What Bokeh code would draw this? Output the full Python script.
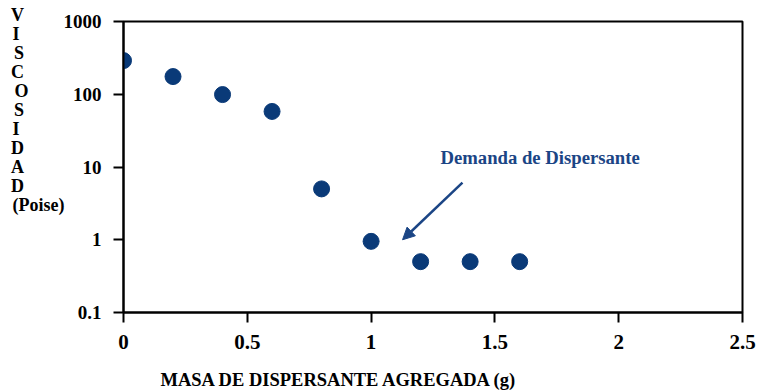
from bokeh.plotting import figure
from bokeh.layouts import column
from bokeh.models import Range1d, FixedTicker, Label, Arrow, NormalHead, ColumnDataSource
from bokeh.embed import file_html
from bokeh.resources import INLINE

# data
masa = [0, 0.2, 0.4, 0.6, 0.8, 1.0, 1.2, 1.4, 1.6]
viscosidad = [290, 175, 99, 58, 5.0, 0.95, 0.5, 0.5, 0.5]
x_ticks = [0, 0.5, 1, 1.5, 2, 2.5]
x_tick_labels = ["0", "0.5", "1", "1.5", "2", "2.5"]
y_ticks = [0.1, 1, 10, 100, 1000]
y_tick_labels = ["0.1", "1", "10", "100", "1000"]
y_title_lines = ["V", "I", "S", "C", "O", "S", "I", "D", "A", "D", "(Poise)"]
x_title = "MASA DE DISPERSANTE AGREGADA (g)"
annot_text = "Demanda de Dispersante"
annot_pos = (1.28, 13.5)
arrow_start = (1.369, 6.1)
arrow_end = (1.127, 1.0)

FONT = "Liberation Serif"
BLUE = "#0a3a78"

W, H = 759, 390
STRIP = 26                          # height of the strip that holds the x title
FL, FR, FT, FB = 123, 742, 21, 312  # frame edges in page pixels

# ---- main chart ----
p = figure(width=W, height=H - STRIP, output_backend="svg", toolbar_location=None,
           y_axis_type="log",
           x_range=Range1d(0, 2.5), y_range=Range1d(0.1, 1000),
           min_border_left=FL, min_border_right=W - FR, min_border_top=FT,
           min_border_bottom=H - STRIP - FB)

p.grid.visible = False
p.outline_line_color = "black"
p.outline_line_width = 2
p.outline_line_alpha = 1
p.background_fill_color = "white"
p.border_fill_color = "white"

p.xaxis.ticker = FixedTicker(ticks=x_ticks)
p.xaxis.major_label_overrides = {tk: l for tk, l in zip(x_ticks, x_tick_labels)}
p.yaxis.ticker = FixedTicker(ticks=y_ticks)
p.yaxis.major_label_overrides = {tk: l for tk, l in zip(y_ticks, y_tick_labels)}

for ax in (p.xaxis, p.yaxis):
    ax.axis_line_width = 2
    ax.axis_line_color = "black"
    ax.major_tick_line_width = 2
    ax.major_tick_line_color = "black"
    ax.major_tick_out = 10
    ax.major_tick_in = 0
    ax.minor_tick_line_color = None
    ax.major_label_text_font = FONT
    ax.major_label_text_font_style = "bold"
    ax.major_label_text_color = "black"
    ax.major_label_standoff = 12

p.xaxis.major_label_text_font_size = "21px"
p.yaxis.major_label_text_font_size = "19px"

# stacked y title: multi-line horizontal axis label; lines are centred by Bokeh,
# so pad the single letters with no-break spaces to make them left-aligned
adv = {"V": 722, "I": 389, "S": 556, "C": 722, "O": 778, "D": 722, "A": 722}
widest = 2888  # advance width of "(Poise)" in 1/1000 em
NBSP = "\u00a0"
padded = []
for s_ in y_title_lines:
    if s_ in adv:
        padded.append(s_ + NBSP * round((widest - adv[s_]) / 250))
    else:
        padded.append(s_)
p.yaxis.axis_label = "\n".join(padded + [NBSP] * 6)
p.yaxis.axis_label_orientation = "horizontal"
p.yaxis.axis_label_text_align = "left"
p.yaxis.axis_label_text_font = FONT
p.yaxis.axis_label_text_font_style = "bold"
p.yaxis.axis_label_text_font_size = "18px"
p.yaxis.axis_label_text_line_height = 0.948
p.yaxis.axis_label_text_color = "black"
p.yaxis.axis_label_standoff = -4

src = ColumnDataSource(dict(x=masa, y=viscosidad))
p.scatter("x", "y", source=src, size=16, fill_color=BLUE, line_color=BLUE)

# annotation
p.add_layout(Label(x=annot_pos[0], y=annot_pos[1], text=annot_text,
                   text_font=FONT, text_font_style="bold", text_font_size="18.7px",
                   text_color="#1b4585", text_baseline="middle", text_align="left"))
p.add_layout(Arrow(x_start=arrow_start[0], y_start=arrow_start[1],
                   x_end=arrow_end[0], y_end=arrow_end[1],
                   line_color="#1b4585", line_width=2.5,
                   end=NormalHead(size=12, fill_color="#1b4585", line_color="#1b4585")))

# ---- strip below: x-axis title (no axes at all, so its frame is exact) ----
s = figure(width=W, height=STRIP, output_backend="svg", toolbar_location=None,
           x_axis_location=None, y_axis_location=None,
           x_range=Range1d(FL, FR), y_range=Range1d(H, H - STRIP),
           min_border=0, min_border_left=FL, min_border_right=W - FR,
           min_border_top=0, min_border_bottom=0)
s.grid.visible = False
s.outline_line_color = None
s.background_fill_color = "white"
s.border_fill_color = "white"
s.text(x=[160], y=[379], text=[x_title],
       text_font={"value": FONT}, text_font_style="bold", text_font_size="18.5px",
       text_color="black", text_baseline="alphabetic", text_align="left")

layout = column(p, s, spacing=0)
open("out.html", "w").write(file_html(layout, INLINE))
